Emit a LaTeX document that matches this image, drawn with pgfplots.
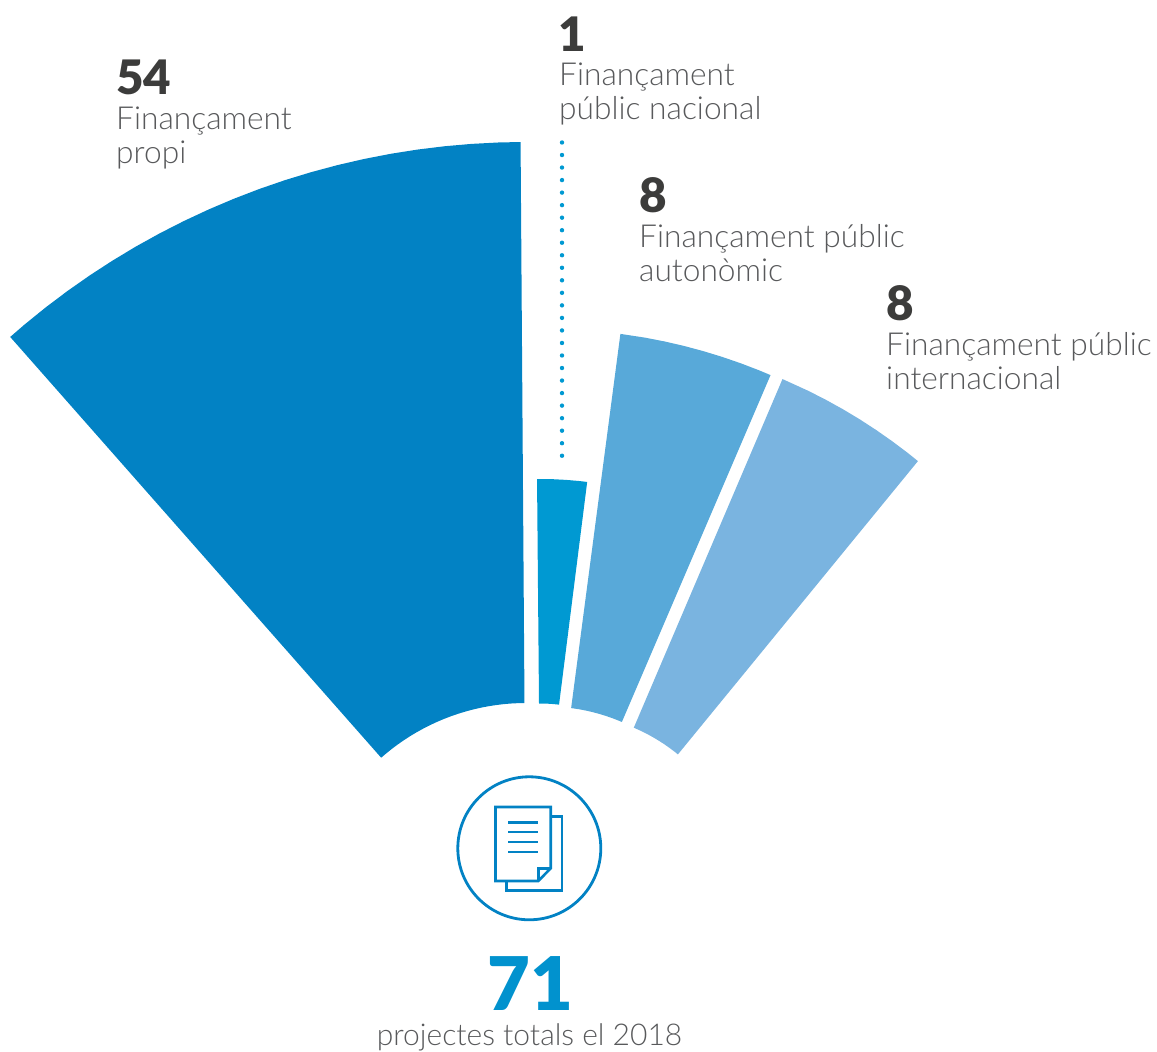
\documentclass[border=0pt]{standalone}
\usepackage{pgfplots}
\pgfplotsset{compat=1.18}
\usepackage{fontspec}
\setmainfont{Lato Light}
\newfontfamily\heavy{Lato Black}
\definecolor{txt}{HTML}{58595B}
\definecolor{numc}{HTML}{3C3C3B}
\definecolor{blueA}{HTML}{0282C4}
\definecolor{blueB}{HTML}{0099D2}
\definecolor{blueC}{HTML}{58A9D9}
\definecolor{blueD}{HTML}{7AB4E0}
\tikzset{
  lab/.style={anchor=base west, text=txt, font=\fontsize{31.7}{34}\selectfont, inner sep=0pt},
  num/.style={anchor=base west, text=numc, font=\heavy\fontsize{47.5}{47}\selectfont, inner sep=0pt},
}
\pgfplotsset{
  wedge/.style={draw=none, data cs=polar},
  ico/.style={draw=blueA, line width=2.6pt, no markers, line join=miter},
}
\begin{document}
\begin{tikzpicture}
\path[use as bounding box] (0,0) rectangle (1157pt,1052pt);
\begin{axis}[
  hide axis, scale only axis, width=1157pt, height=1052pt,
  xmin=0, xmax=1157, ymin=0, ymax=1052, clip=false,
]
% wedges: (angle, radius) round each wedge's own apex
\addplot[wedge, fill=blueA, shift={(526pt,130pt)}] coordinates {
  (131.4,780) (130,780) (128,780) (126,780) (124,780) (122,780) (120,780) (118,780) (116,780) (114,780) (112,780)
  (110,780) (108,780) (106,780) (104,780) (102,780) (100,780) (98,780) (96,780) (94,780) (92,780) (90.4,780)
  (90.4,219) (92,219) (94,219) (96,219) (98,219) (100,219) (102,219) (104,219) (106,219) (108,219) (110,219)
  (112,219) (114,219) (116,219) (118,219) (120,219) (122,219) (124,219) (126,219) (128,219) (130,219) (131.4,219)} -- cycle;
\addplot[wedge, fill=blueB, shift={(540.3pt,199pt)}] coordinates {
  (90.5,374) (88,374) (86,374) (84,374) (82.8,374)
  (82.8,149.5) (84,149.5) (86,149.5) (88,149.5) (90.5,149.5)} -- cycle;
\addplot[wedge, fill=blueC, shift={(546pt,153pt)}] coordinates {
  (82.5,570) (80,570) (78,570) (76,570) (74,570) (72,570) (70,570) (68,570) (66.8,570)
  (66.8,192.6) (68,192.6) (70,192.6) (72,192.6) (74,192.6) (76,192.6) (78,192.6) (80,192.6) (82.5,192.6)} -- cycle;
\addplot[wedge, fill=blueD, shift={(562pt,156pt)}] coordinates {
  (66.9,562) (64,562) (62,562) (60,562) (58,562) (56,562) (54,562) (52,562) (50.7,562)
  (50.7,183) (52,183) (54,183) (56,183) (58,183) (60,183) (62,183) (64,183) (66.9,183)} -- cycle;
% dotted leader
\addplot[blueB, line width=4.4pt, line cap=round, dash pattern=on 0pt off 12.53pt, no markers]
  coordinates {(562,909.5) (562,595)};
% icon
\addplot[only marks, mark=o, mark size=71.5pt, mark options={draw=blueA, line width=2.8pt}]
  coordinates {(529.3,203.7)};
\addplot[ico] coordinates {(495.5,245) (550.7,245) (550.7,183.7) (538.3,171) (495.5,171)} -- cycle;
\addplot[ico] coordinates {(538.3,171) (538.3,183.7) (550.7,183.7)};
\addplot[ico] coordinates {(550.7,235.3) (562,235.3) (562,161.3) (506.7,161.3) (506.7,171)};
\addplot[ico] coordinates {(508,229.7) (538,229.7)};
\addplot[ico] coordinates {(508,220) (538,220)};
\addplot[ico] coordinates {(508,210) (538,210)};
\addplot[ico] coordinates {(508,200) (538,200)};
% labels
\node[num] at (axis cs:116,957) {54};
\node[lab] at (axis cs:116,922) {Finançament};
\node[lab] at (axis cs:116,888) {propi};
\node[num] at (axis cs:558,1000) {1};
\node[lab] at (axis cs:559,966) {Finançament};
\node[lab] at (axis cs:559,932) {públic nacional};
\node[num] at (axis cs:639.5,839) {8};
\node[lab] at (axis cs:639,804) {Finançament públic};
\node[lab] at (axis cs:639,770) {autonòmic};
\node[num] at (axis cs:886.5,731) {8};
\node[lab] at (axis cs:886,696) {Finançament públic};
\node[lab] at (axis cs:886,662) {internacional};
\node[anchor=base, inner sep=0pt, text=blueB!70!blueA, font=\heavy\fontsize{74}{74}\selectfont] at (axis cs:530,41) {71};
\node[anchor=base, inner sep=0pt, text=txt, font=\fontsize{30}{34}\selectfont] at (axis cs:529.5,6) {projectes totals el 2018};
\end{axis}
\end{tikzpicture}
\end{document}
